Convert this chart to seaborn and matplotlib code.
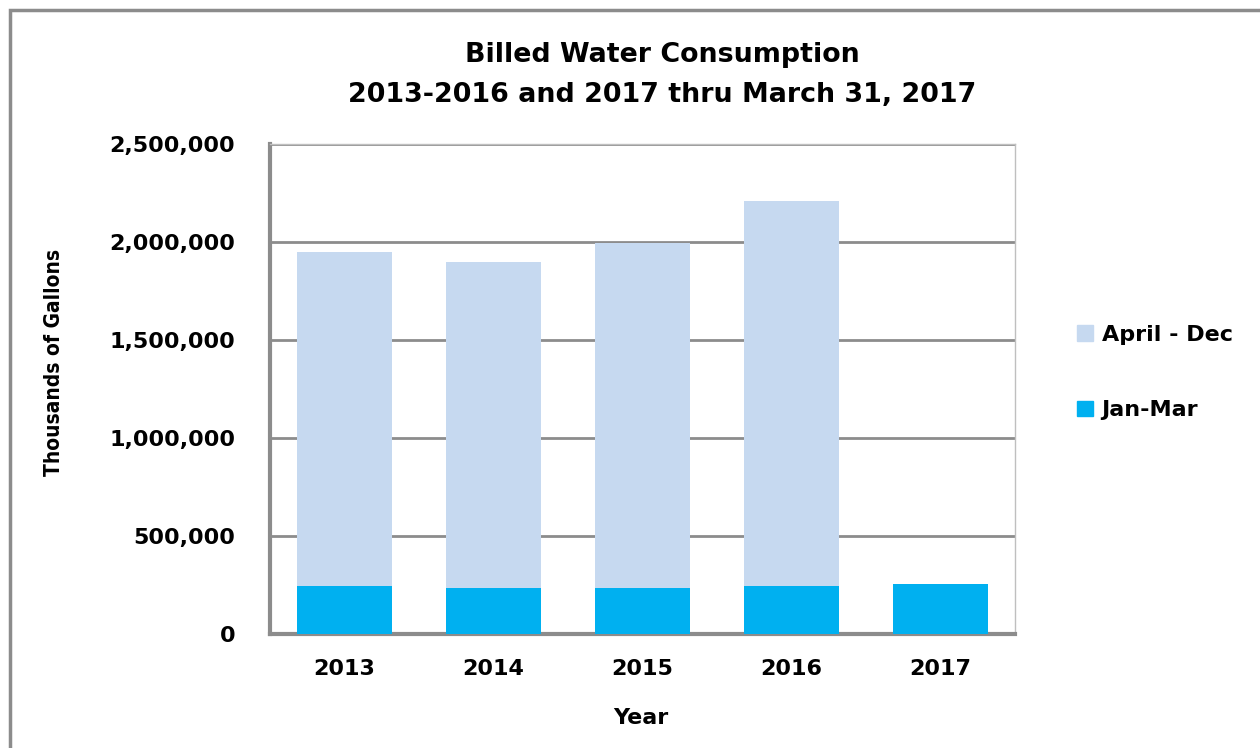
import matplotlib
matplotlib.use("Agg")
import matplotlib.pyplot as plt
from matplotlib.patches import Patch, Rectangle
from matplotlib.ticker import FuncFormatter
import seaborn as sns
import pandas as pd

years = ["2013", "2014", "2015", "2016", "2017"]
jan_mar = [244000, 235000, 235000, 244000, 256000]
apr_dec = [1703000, 1661000, 1761000, 1966000, 0]
series_names = ["April - Dec", "Jan-Mar"]
colors = {"April - Dec": "#C6D9F0", "Jan-Mar": "#00B0F0"}

df = pd.DataFrame({"Year": years, "Jan-Mar": jan_mar, "April - Dec": apr_dec})
df["Total"] = df["Jan-Mar"] + df["April - Dec"]

sns.set_style("white")
plt.rcParams["font.family"] = ["DejaVu Sans"]
plt.rcParams["text.color"] = "black"
plt.rcParams["xtick.color"] = "black"
plt.rcParams["ytick.color"] = "black"

fig = plt.figure(figsize=(12.6, 7.48), dpi=100)
ax = fig.add_axes([0.2143, 0.1524, 0.5913, 0.6551])

sns.barplot(data=df, x="Year", y="Total", color=colors["April - Dec"], width=0.64,
            saturation=1, linewidth=0, ax=ax, zorder=3)
sns.barplot(data=df, x="Year", y="Jan-Mar", color=colors["Jan-Mar"], width=0.64,
            saturation=1, linewidth=0, ax=ax, zorder=3)

ax.set_ylim(0, 2500000)
ax.set_xlim(-0.5, 4.5)
ax.set_yticks([0, 500000, 1000000, 1500000, 2000000, 2500000])
ax.yaxis.set_major_formatter(FuncFormatter(lambda v, p: f"{int(v):,}"))
ax.grid(axis="y", color="#8C8C8C", linewidth=2, zorder=0)
ax.set_axisbelow(True)
for s in ["left", "bottom"]:
    ax.spines[s].set_color("#8C8C8C")
    ax.spines[s].set_linewidth(3)
for s in ["top", "right"]:
    ax.spines[s].set_color("#BFBFBF")
    ax.spines[s].set_linewidth(1)
ax.tick_params(axis="y", length=0, labelsize=16, pad=25, labelcolor="black")
ax.tick_params(axis="x", length=0, labelsize=16, pad=18, labelcolor="black")
for lab in ax.get_xticklabels() + ax.get_yticklabels():
    lab.set_fontweight("bold")
ax.set_xlabel("")
ax.set_ylabel("")
fig.text(641 / 1260, 1 - 718 / 748, "Year", ha="center", va="center",
         fontsize=16, fontweight="bold", color="black")
fig.text(54 / 1260, 1 - 362 / 748, "Thousands of Gallons", ha="center", va="center",
         rotation=90, fontsize=15, fontweight="bold", fontstretch="condensed",
         family=["DejaVu Sans"], color="black")

fig.text(662 / 1260, 1 - 55 / 748, "Billed Water Consumption",
         ha="center", va="center", fontsize=19.4, fontweight="bold", color="black")
fig.text(662 / 1260, 1 - 95 / 748, "2013-2016 and 2017 thru March 31, 2017",
         ha="center", va="center", fontsize=19.4, fontweight="bold", color="black")

handles = [Patch(facecolor=colors[n], edgecolor=colors[n]) for n in series_names]
fig.legend(handles, series_names, loc="center left", bbox_to_anchor=(0.839, 0.502),
           frameon=False, prop={"size": 16, "weight": "bold"}, handlelength=0.7,
           handleheight=0.7, handletextpad=0.4, labelspacing=2.5)

fig.patches.append(Rectangle((0.008, -0.05), 1.1, 1.037, transform=fig.transFigure,
                             fill=False, edgecolor="#8C8C8C", linewidth=2.5))

fig.savefig("out.png", dpi=100)
